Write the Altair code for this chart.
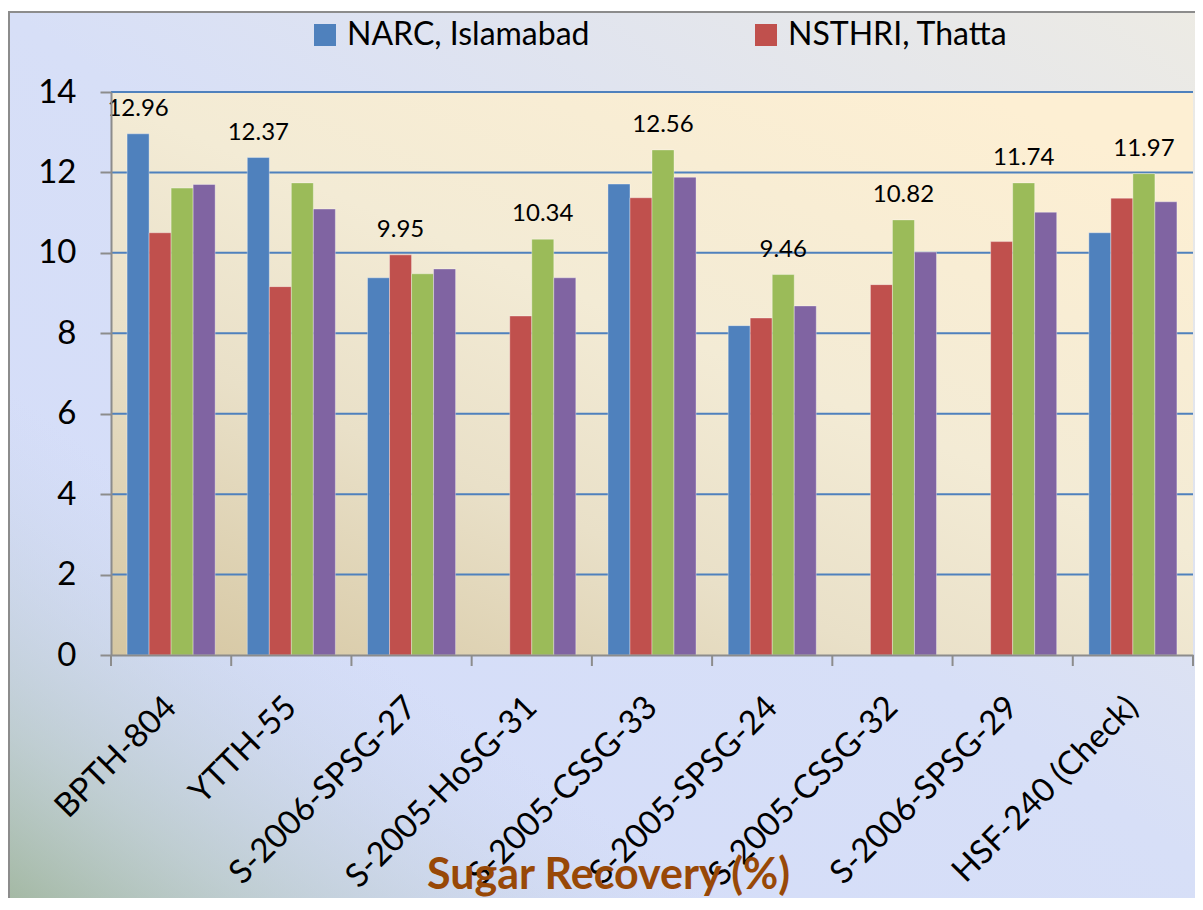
import altair as alt
import pandas as pd

categories = ["BPTH-804", "YTTH-55", "S-2006-SPSG-27", "S-2005-HoSG-31", "S-2005-CSSG-33",
              "S-2005-SPSG-24", "S-2005-CSSG-32", "S-2006-SPSG-29", "HSF-240 (Check)"]
series_names = ["NARC, Islamabad", "NSTHRI, Thatta", "Location 3", "Location 4"]
narc = [12.96, 12.37, 9.38, None, 11.71, 8.19, None, None, 10.50]
nsthri = [10.50, 9.16, 9.95, 8.43, 11.37, 8.38, 9.21, 10.28, 11.36]
loc3 = [11.61, 11.74, 9.48, 10.34, 12.56, 9.46, 10.82, 11.74, 11.97]
loc4 = [11.70, 11.09, 9.60, 9.38, 11.88, 8.68, 10.02, 11.01, 11.27]
colors = ["#4f81bd", "#c0504d", "#9bbb59", "#8064a2"]
y_ticks = [0, 2, 4, 6, 8, 10, 12, 14]
grid_vals = [2, 4, 6, 8, 10, 12, 14]

rows = []
for s, vals in zip(series_names, [narc, nsthri, loc3, loc4]):
    for c, v in zip(categories, vals):
        if v is not None:
            rows.append({"cat": c, "series": s, "value": v})
df = pd.DataFrame(rows)
lab = df.loc[df.groupby("cat")["value"].idxmax()].reset_index(drop=True)
grid_df = pd.DataFrame({"value": grid_vals})
cat_df = pd.DataFrame({"cat": categories})
one = pd.DataFrame({"k": [0]})

W, H = 1082, 563
FONT = "Lato"

x_scale = alt.Scale(domain=categories, paddingInner=0, paddingOuter=0)
x_axis = alt.Axis(labelAngle=-45, labelAlign="right", labelBaseline="middle", labelFont=FONT,
                  labelFontSize=33, labelColor="black", labelPadding=47, labelLimit=400,
                  labelOverlap=False, ticks=False, domainColor="#8c8c8c", domainWidth=2,
                  title="Sugar Recovery (%)", titleFont=FONT, titleFontSize=43,
                  titleFontWeight="bold", titleColor="#984807", titleX=497, titleY=233,
                  titleAlign="center", titleBaseline="alphabetic", titleAngle=0, zindex=1)
y_scale = alt.Scale(domain=[0, 14], nice=False)
y_axis = alt.Axis(values=y_ticks, grid=False, domainColor="#8c8c8c", domainWidth=2,
                  tickColor="#8c8c8c", tickWidth=2, tickSize=11, labelFont=FONT,
                  labelFontSize=33, labelColor="black", labelPadding=24, title=None, zindex=1)

x_enc = alt.X("cat:N", sort=categories, scale=x_scale, axis=x_axis)
y_enc = alt.Y("value:Q", scale=y_scale, axis=y_axis)
xoff = alt.XOffset("series:N", sort=series_names,
                   scale=alt.Scale(domain=series_names, paddingInner=0, paddingOuter=0.73))

outer_grad = alt.LinearGradient(gradient="linear", x1=0, y1=1, x2=1, y2=0, stops=[
    alt.GradientStop(color="#d3dcfa", offset=0),
    alt.GradientStop(color="#d7dff7", offset=0.5),
    alt.GradientStop(color="#efece2", offset=1)])
green_grad = alt.LinearGradient(gradient="linear", x1=0, y1=1, x2=1, y2=0, stops=[
    alt.GradientStop(color="rgba(150,174,140,0.95)", offset=0),
    alt.GradientStop(color="rgba(170,190,170,0.5)", offset=0.12),
    alt.GradientStop(color="rgba(200,210,230,0)", offset=0.3)])
plot_grad = alt.LinearGradient(gradient="linear", x1=0, y1=1, x2=0.8, y2=0, stops=[
    alt.GradientStop(color="#d5c6a1", offset=0),
    alt.GradientStop(color="#e9e0c8", offset=0.35),
    alt.GradientStop(color="#f3ebd5", offset=0.6),
    alt.GradientStop(color="#fdefd3", offset=1)])

outer = alt.Chart(one).mark_rect(fill=outer_grad, stroke="#8c8c8c", strokeWidth=2).encode(
    x=alt.value(-102), x2=alt.value(W + 130), y=alt.value(-80), y2=alt.value(H + 300))
green = alt.Chart(one).mark_rect(fill=green_grad).encode(
    x=alt.value(-101), x2=alt.value(W + 130), y=alt.value(-79), y2=alt.value(H + 300))
plotbg = alt.Chart(one).mark_rect(fill=plot_grad).encode(
    x=alt.value(0), x2=alt.value(W), y=alt.value(0), y2=alt.value(H))

grid = alt.Chart(grid_df).mark_rule(color="#4f81bd", strokeWidth=2).encode(
    y=y_enc, x=alt.value(0), x2=alt.value(W))

bars = alt.Chart(df).mark_bar(stroke="#ffffff", strokeOpacity=0.35, strokeWidth=1).encode(
    x=x_enc, xOffset=xoff, y=y_enc,
    color=alt.Color("series:N", scale=alt.Scale(domain=series_names, range=colors),
                    legend=alt.Legend(values=series_names[:2], orient="none", legendX=198,
                                      legendY=-73, direction="horizontal", title=None,
                                      symbolType="square", symbolSize=484, symbolStrokeWidth=0,
                                      labelFont=FONT, labelFontSize=32, labelColor="black",
                                      labelLimit=500, columnPadding=160, labelOffset=6,
                                      padding=0)))

labels = alt.Chart(lab).mark_text(font=FONT, fontSize=24, color="black", baseline="alphabetic",
                                  dy=-18).encode(
    x=x_enc, xOffset=xoff, y=y_enc, text=alt.Text("value:Q", format=".2f"))

ticks = alt.Chart(cat_df).mark_rule(color="#8c8c8c", strokeWidth=2).encode(
    x=alt.X("cat:N", sort=categories, scale=x_scale, axis=x_axis, bandPosition=0),
    y=alt.value(H), y2=alt.value(H + 11))
last_tick = alt.Chart(one).mark_rule(color="#8c8c8c", strokeWidth=2).encode(
    x=alt.value(W), y=alt.value(H), y2=alt.value(H + 11))

chart = alt.layer(outer, green, plotbg, grid, bars, labels, ticks, last_tick).properties(
    width=W, height=H,
    autosize=alt.AutoSizeParams(type="none"),
    padding={"left": 103, "top": 84, "right": 2, "bottom": 243},
    background="white",
).configure_view(stroke=None)

chart.save("out.html", embed_options={"renderer": "svg", "actions": False})
